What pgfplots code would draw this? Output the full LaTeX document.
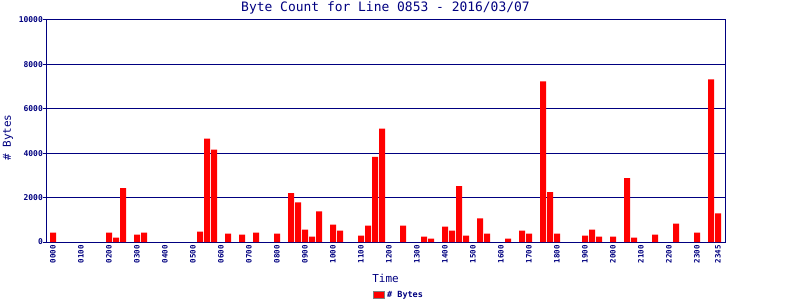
\documentclass[border=0pt]{standalone}
\usepackage{pgfplots}
\pgfplotsset{compat=1.18}
\usepackage{fontspec}
\setmainfont{DejaVu Sans Mono}
\definecolor{navy}{RGB}{0,0,128}
\definecolor{legendgray}{RGB}{128,128,128}
\begin{document}
\begin{tikzpicture}
\path[use as bounding box] (0,0) rectangle (800bp,300bp);
\begin{axis}[
  at={(46bp,58bp)}, anchor=south west,
  scale only axis, width=679bp, height=222bp,
  clip=false,
  xmin=-1, xmax=96, ymin=0, ymax=10000,
  axis line style={navy, line width=1bp},
  xtick={0,4,...,92,95},
  xticklabels={0000,0100,0200,0300,0400,0500,0600,0700,0800,0900,1000,1100,1200,1300,1400,1500,1600,1700,1800,1900,2000,2100,2200,2300,2345},
  xticklabel style={rotate=90, anchor=east, font=\fontsize{7.5}{8}\selectfont\bfseries, text=navy, inner sep=0pt},
  major x tick style={draw=none},
  ytick={0,2000,4000,6000,8000,10000},
  yticklabels={0,2000,4000,6000,8000,10000},
  scaled y ticks=false,
  yticklabel style={font=\fontsize{8}{9}\selectfont\bfseries, text=navy, inner sep=0pt},
  ytick pos=left, tick align=outside, major tick length=3bp,
  major y tick style={navy, line width=1bp},
  xtick pos=bottom,
  ymajorgrids, grid style={navy, line width=1bp},
  legend style={at={(0.52,0)}, anchor=center, yshift=-53bp, draw=none, fill=none, font=\fontsize{8.5}{9}\selectfont\bfseries, text=navy, inner sep=0pt},
  legend image code/.code={\draw[fill=red, draw=legendgray, line width=1bp] (0bp,-3.5bp) rectangle (11bp,3.5bp);},
]
\addplot[ybar, bar width=6bp, fill=red, draw=none] coordinates {
(0,424) (8,420) (9,197) (10,2424) (12,333) (13,424)
(21,470) (22,4660) (23,4160) (25,379) (27,333) (29,424)
(32,379) (34,2197) (35,1788) (36,560) (37,242) (38,1379)
(40,788) (41,515) (44,288) (45,742) (46,3833) (47,5110)
(50,742) (53,242) (54,152) (56,697) (57,515) (58,2515) (59,288)
(61,1060) (62,379) (65,152) (67,515) (68,379)
(70,7230) (71,2242) (72,379) (76,288) (77,560) (78,242)
(80,242) (82,2879) (83,197) (86,333) (89,833) (92,424)
(94,7320) (95,1288)
};
\addlegendentry{\# Bytes}
\node[anchor=center, text=navy, font=\fontsize{13}{14}\selectfont] at ([yshift=12bp]axis description cs:0.5,1) {Byte Count for Line 0853 - 2016/03/07};
\node[anchor=center, text=navy, font=\fontsize{11}{12}\selectfont] at ([yshift=-36bp]axis description cs:0.5,0) {Time};
\node[anchor=center, rotate=90, text=navy, font=\fontsize{11}{12}\selectfont] at ([xshift=-38bp]axis description cs:0,0.47) {\# Bytes};
\end{axis}
\end{tikzpicture}
\end{document}
